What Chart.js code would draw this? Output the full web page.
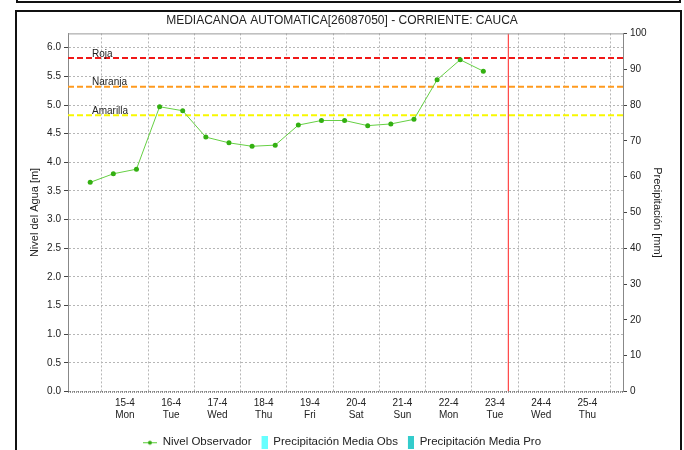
<!DOCTYPE html>
<html>
<head>
<meta charset="utf-8">
<script src="https://cdn.jsdelivr.net/npm/chart.js@4.4.1/dist/chart.umd.min.js"></script>
<style>
    html, body { margin: 0; padding: 0; background: #fff; overflow: hidden; }
    #wrap { position: relative; width: 684px; height: 450px; }
    #grafica { position: absolute; left: 0; top: 0; }
    .marco { position: absolute; box-sizing: border-box; border: 2px solid #111; pointer-events: none; }
</style>
</head>
<body>
<div id="wrap">
    <canvas id="grafica" width="684" height="450"></canvas>
    <div class="marco" style="left:16px; top:-19px; width:665px; height:22px;"></div>
    <div class="marco" style="left:15px; top:10px; width:667px; height:460px;"></div>
</div>
<script>
// dias del eje x (etiquetas a mediodia, rejilla a medianoche)
const dias = ['15-4', '16-4', '17-4', '18-4', '19-4', '20-4', '21-4', '22-4', '23-4', '24-4', '25-4'];
const semana = ['Mon', 'Tue', 'Wed', 'Thu', 'Fri', 'Sat', 'Sun', 'Mon', 'Tue', 'Wed', 'Thu'];

// tiempo de cada lectura, en dias desde 15-4 00:00
const tiempos = [-0.25, 0.25, 0.75, 1.25, 1.75, 2.25, 2.75, 3.25, 3.75, 4.25, 4.75, 5.25, 5.75, 6.25, 6.75, 7.25, 7.75, 8.25];
const nivel = [3.65, 3.80, 3.88, 4.97, 4.90, 4.44, 4.34, 4.28, 4.30, 4.65, 4.73, 4.73, 4.64, 4.67, 4.75, 5.44, 5.79, 5.59];

// umbrales de alerta
const umbralNombres = ['Roja', 'Naranja', 'Amarilla'];
const umbralValores = [5.82, 5.32, 4.82];
const umbralColores = ['#f01818', '#ff9a1e', '#f8f800'];

// hora actual (linea roja vertical)
const ahora = 8.79;

const xMin = -0.73;
const xMax = 11.27;
const yMax = 6.25;

const fuente = "'Liberation Sans', Arial, sans-serif";
Chart.defaults.font.family = fuente;
Chart.defaults.color = '#222';

// iconos de la leyenda
function iconoLinea() {
    const c = document.createElement('canvas');
    c.width = 14; c.height = 8;
    const g = c.getContext('2d');
    g.strokeStyle = '#55cc33';
    g.lineWidth = 1;
    g.beginPath(); g.moveTo(0, 4.5); g.lineTo(14, 4.5); g.stroke();
    g.fillStyle = '#33aa11';
    g.beginPath(); g.arc(7, 4.5, 2, 0, Math.PI * 2); g.fill();
    return c;
}
function iconoCaja(color) {
    const c = document.createElement('canvas');
    c.width = 14; c.height = 13;
    const g = c.getContext('2d');
    g.fillStyle = color;
    g.fillRect(8, 0, 7, 13);
    return c;
}

const datasets = [
    {
        label: 'Nivel Observador',
        type: 'line',
        data: tiempos.map((t, i) => ({ x: t, y: nivel[i] })),
        borderColor: '#66d044',
        borderWidth: 1,
        pointRadius: 2.5,
        pointBackgroundColor: '#33b011',
        pointBorderWidth: 0,
        yAxisID: 'y',
        order: 0
    },
    {
        label: 'Precipitación Media Obs',
        type: 'bar',
        data: [],
        backgroundColor: '#66ffff',
        yAxisID: 'y1'
    },
    {
        label: 'Precipitación Media Pro',
        type: 'bar',
        data: [],
        backgroundColor: '#33cccc',
        yAxisID: 'y1'
    }
];

umbralValores.forEach((v, i) => {
    datasets.push({
        label: umbralNombres[i],
        type: 'line',
        data: [{ x: xMin, y: v }, { x: xMax, y: v }],
        borderColor: umbralColores[i],
        borderWidth: 2,
        borderDash: [6, 3],
        pointRadius: 0,
        yAxisID: 'y',
        order: 2
    });
});

datasets.push({
    label: 'ahora',
    type: 'line',
    data: [{ x: ahora, y: 0 }, { x: ahora, y: yMax }],
    borderColor: '#ff2020',
    borderWidth: 1,
    pointRadius: 0,
    yAxisID: 'y',
    order: 1
});

// nombres de umbrales y bordes del area
const extras = {
    id: 'extras',
    afterDatasetsDraw(chart) {
        const { ctx, chartArea, scales } = chart;
        ctx.save();
        ctx.font = '10px ' + fuente;
        ctx.fillStyle = '#222';
        ctx.textAlign = 'left';
        ctx.textBaseline = 'alphabetic';
        umbralValores.forEach((v, i) => {
            ctx.fillText(umbralNombres[i], chartArea.left + 24, scales.y.getPixelForValue(v) - 1.5);
        });
        // borde superior
        ctx.strokeStyle = '#999';
        ctx.lineWidth = 1;
        ctx.beginPath();
        ctx.moveTo(chartArea.left, chartArea.top + 0.5);
        ctx.lineTo(chartArea.right, chartArea.top + 0.5);
        ctx.stroke();
        // base punteada
        ctx.strokeStyle = '#333';
        ctx.setLineDash([1, 1]);
        ctx.beginPath();
        ctx.moveTo(chartArea.left, chartArea.bottom + 0.5);
        ctx.lineTo(chartArea.right, chartArea.bottom + 0.5);
        ctx.stroke();
        ctx.restore();
    }
};

const grafica = new Chart(document.getElementById('grafica').getContext('2d'), {
    type: 'line',
    data: { datasets: datasets },
    options: {
        responsive: false,
        animation: false,
        devicePixelRatio: 1,
        layout: { padding: { left: 0, right: 0, top: 0, bottom: -8 } },
        scales: {
            x: {
                type: 'linear',
                min: xMin,
                max: xMax,
                offset: false,
                afterBuildTicks: (scale) => {
                    const marcas = [];
                    for (let i = 0; i < dias.length; i++) {
                        marcas.push({ value: i }, { value: i + 0.5 });
                    }
                    marcas.push({ value: dias.length });
                    scale.ticks = marcas;
                },
                afterFit: (scale) => { scale.height = 43; },
                grid: {
                    offset: false,
                    color: (c) => Number.isInteger(c.tick && c.tick.value) ? '#b6b6b6' : 'rgba(0,0,0,0)',
                    drawTicks: false
                },
                border: { display: false, dash: [2, 2] },
                ticks: {
                    autoSkip: false,
                    maxRotation: 0,
                    minRotation: 0,
                    padding: 6,
                    font: { size: 10 },
                    color: '#222',
                    callback: (value) => {
                        if (Number.isInteger(value)) return '';
                        const i = Math.floor(value);
                        return [dias[i], semana[i]];
                    }
                }
            },
            y: {
                position: 'left',
                min: 0,
                max: yMax,
                afterBuildTicks: (scale) => {
                    scale.ticks = scale.ticks.filter(t => Math.abs(t.value * 2 - Math.round(t.value * 2)) < 1e-9);
                },
                afterFit: (scale) => { scale.width = 68; },
                grid: {
                    color: '#b6b6b6',
                    tickColor: '#444',
                    tickLength: 4
                },
                border: { color: '#888', dash: [2, 2] },
                ticks: {
                    stepSize: 0.5,
                    padding: 3,
                    font: { size: 10 },
                    color: '#222',
                    callback: (v) => v.toFixed(1)
                },
                title: {
                    display: true,
                    text: 'Nivel del Agua [m]',
                    font: { size: 11 },
                    color: '#222',
                    padding: { top: 28, bottom: 0 }
                }
            },
            y1: {
                position: 'right',
                min: 0,
                max: 100,
                afterFit: (scale) => { scale.width = 61; },
                grid: {
                    drawOnChartArea: false,
                    color: '#444',
                    tickLength: 4
                },
                border: { color: '#888' },
                ticks: {
                    stepSize: 10,
                    padding: 3,
                    font: { size: 10 },
                    color: '#222'
                },
                title: {
                    display: true,
                    text: 'Precipitación [mm]',
                    font: { size: 11 },
                    color: '#222',
                    padding: { top: 20, bottom: 0 }
                }
            }
        },
        plugins: {
            title: {
                display: true,
                text: 'MEDIACANOA AUTOMATICA[26087050] - CORRIENTE: CAUCA',
                font: { size: 12, weight: 'normal' },
                color: '#222',
                padding: { top: 13, bottom: 6 }
            },
            legend: {
                display: true,
                position: 'bottom',
                labels: {
                    usePointStyle: true,
                    pointStyleWidth: 14,
                    padding: 2,
                    font: { size: 11.5 },
                    color: '#222',
                    generateLabels: () => [
                        { text: 'Nivel Observador', pointStyle: iconoLinea(), datasetIndex: 0, hidden: false, lineWidth: 0, fontColor: '#222' },
                        { text: 'Precipitación Media Obs', pointStyle: iconoCaja('#66ffff'), datasetIndex: 1, hidden: false, lineWidth: 0, fontColor: '#222' },
                        { text: 'Precipitación Media Pro', pointStyle: iconoCaja('#33cccc'), datasetIndex: 2, hidden: false, lineWidth: 0, fontColor: '#222' }
                    ]
                }
            },
            tooltip: { enabled: false }
        }
    },
    plugins: [extras]
});
</script>
</body>
</html>
